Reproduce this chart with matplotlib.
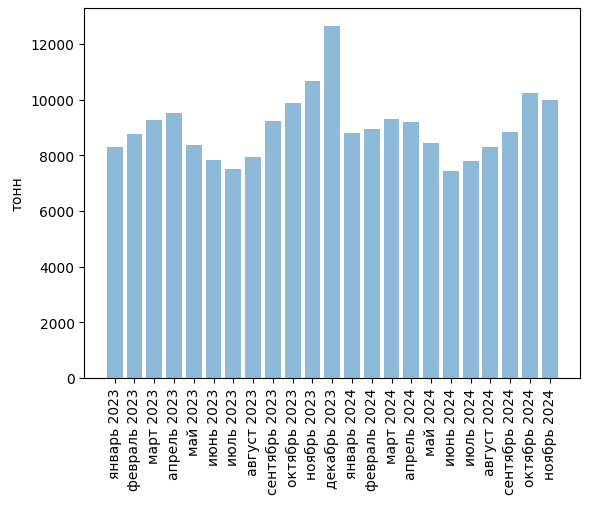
import matplotlib
matplotlib.use("Agg")
import matplotlib.pyplot as plt

months = [
    "январь 2023", "февраль 2023", "март 2023", "апрель 2023", "май 2023",
    "июнь 2023", "июль 2023", "август 2023", "сентябрь 2023", "октябрь 2023",
    "ноябрь 2023", "декабрь 2023", "январь 2024", "февраль 2024", "март 2024",
    "апрель 2024", "май 2024", "июнь 2024", "июль 2024", "август 2024",
    "сентябрь 2024", "октябрь 2024", "ноябрь 2024",
]
tonnes = [
    8290, 8760, 9260, 9510, 8360, 7820, 7500, 7930, 9220, 9870, 10670, 12650,
    8790, 8940, 9300, 9190, 8430, 7420, 7780, 8290, 8830, 10230, 9980,
]

fig, ax = plt.subplots(figsize=(5.89, 5.06), dpi=100)
fig.subplots_adjust(left=0.143, right=0.985, top=0.982, bottom=0.251)

ax.bar(months, tonnes, alpha=0.5)
ax.set_ylabel("тонн")
plt.xticks(rotation=90)

fig.savefig("out.png", dpi=100)
